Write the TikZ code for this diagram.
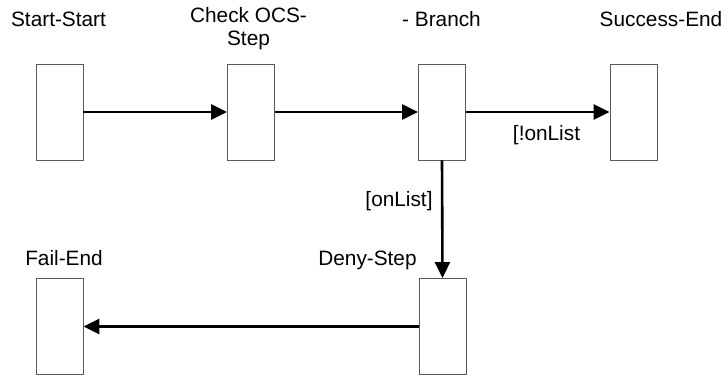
\documentclass[tikz,border=0pt]{standalone}
\usepackage{fontspec}
\setmainfont{Liberation Sans}
\usetikzlibrary{arrows.meta}

\begin{document}
\begin{tikzpicture}[
  x=1pt, y=-1pt,
  statebox/.style={draw=black!65, fill=white, line width=0.9pt, minimum width=47pt, minimum height=96pt, inner sep=0pt},
  statename/.style={anchor=base, inner sep=0pt, font=\fontsize{20.8}{23}\selectfont, align=center},
  guard/.style={statename},
  flow/.style={line width=2.6pt, -{Triangle[length=16pt, width=15pt]}},
]
\useasboundingbox (0,0) rectangle (728,377);
% states
\node[statebox] (start)   at (59.5, 112)  {};
\node[statebox] (check)   at (251, 112)   {};
\node[statebox] (branch)  at (442, 112)   {};
\node[statebox] (success) at (633.5, 112) {};
\node[statebox] (deny)    at (442.5, 326.5) {};
\node[statebox] (fail)    at (59.5, 326.5)  {};
% state names (base of a two-line node is its last line)
\node[statename] (startname)   at (58.5, 27)  {Start-Start};
\node[statename] (checkname)   at (248.5, 46) {Check OCS-\\Step};
\node[statename] (branchname)  at (441.5, 27) {- Branch};
\node[statename] (successname) at (661, 27)   {Success-End};
\node[statename] (denyname)    at (367.5, 265) {Deny-Step};
\node[statename] (failname)    at (64, 265)   {Fail-End};
% transitions
\draw[flow] (start.east) -- (check.west);
\draw[flow] (check.east) -- (branch.west);
\draw[flow] (branch.east) -- (success.west);
\draw[flow] (branch.south) -- (deny.north);
\draw[flow] (deny.west) -- (fail.east);
% guards
\node[guard] (notonlist) at (546.5, 140) {[!onList};
\node[guard] (onlist)    at (399, 206.5) {[onList]};
\end{tikzpicture}
\end{document}
